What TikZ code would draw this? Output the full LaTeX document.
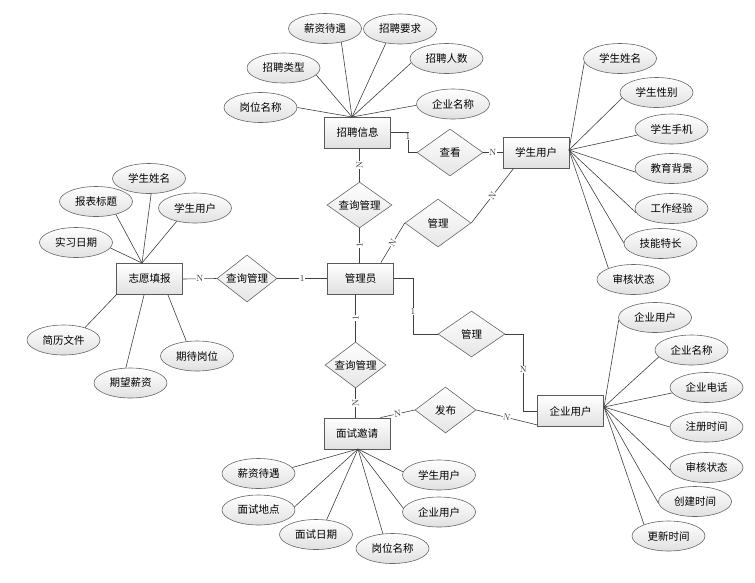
\documentclass[tikz,border=0pt]{standalone}
\usepackage{fontspec}
\newfontfamily\cjk{Noto Sans CJK SC}
\usetikzlibrary{shapes.geometric,calc}
\begin{document}
\begin{tikzpicture}[x=1pt,y=-1pt,
  cjkfont/.style={font=\cjk\fontsize{10.5}{12}\selectfont},
  ent/.style={rectangle,draw=black!65,line width=0.8pt,top color=white,bottom color=black!12,minimum width=66pt,minimum height=31pt,inner sep=0pt,cjkfont},
  attr/.style={ellipse,draw=black!60,line width=0.6pt,top color=white,bottom color=black!12,minimum width=73pt,minimum height=30pt,inner sep=0pt,cjkfont},
  rel/.style={diamond,aspect=1.4,draw=black!60,line width=0.6pt,top color=white,bottom color=black!10,minimum width=64pt,minimum height=46pt,inner sep=0pt,cjkfont},
  conn/.style={draw=black!75,line width=0.6pt},
  lab/.style={fill=white,inner sep=0.6pt,font=\fontsize{9}{10}\selectfont,text=black!80},
]
\useasboundingbox (0,0) rectangle (755,582);

% entities
\node[ent] (zp) at (357.5,132.5) {招聘信息};
\node[ent] (su) at (536,152.5) {学生用户};
\node[ent] (gl) at (360.5,278.5) {管理员};
\node[ent] (zy) at (149.5,279) {志愿填报};
\node[ent] (ms) at (357,433.5) {面试邀请};
\node[ent] (qy) at (570.5,411) {企业用户};

% relationships
\node[rel,minimum width=66pt,minimum height=47pt] (ck) at (450,152.5) {查看};
\node[rel,minimum width=66pt,minimum height=48pt] (m1) at (438,223) {管理};
\node[rel,minimum width=65pt] (q1) at (359.5,205) {查询管理};
\node[rel,minimum width=61pt] (q2) at (355.5,365) {查询管理};
\node[rel,minimum width=60pt,minimum height=47pt] (q3) at (247,278.5) {查询管理};
\node[rel,minimum width=67pt] (m2) at (471.5,334) {管理};
\node[rel,minimum width=61pt] (fb) at (445.5,410) {发布};

% attributes of 招聘信息
\node[attr] (a1) at (325,28.5) {薪资待遇};
\node[attr] (a2) at (400,29) {招聘要求};
\node[attr] (a3) at (283.5,68) {招聘类型};
\node[attr] (a4) at (446.5,58.5) {招聘人数};
\node[attr] (a5) at (260.5,107.5) {岗位名称};
\node[attr] (a6) at (453,104) {企业名称};
\coordinate (z1) at (352,117);
\foreach \n/\a in {a1/-40,a2/-135,a3/-12,a4/-173,a5/0,a6/-178}
  \draw[conn] (z1) -- (\n.\a);

% attributes of 志愿填报
\node[attr] (b1) at (149,178.5) {学生姓名};
\node[attr] (b2) at (96,201.5) {报表标题};
\node[attr] (b3) at (195,208) {学生用户};
\node[attr] (b4) at (76,242.5) {实习日期};
\node[attr] (b5) at (63.5,340) {简历文件};
\node[attr] (b6) at (197,356) {期待岗位};
\node[attr] (b7) at (130.5,383) {期望薪资};
\coordinate (z2) at (142,263);
\foreach \n/\a in {b1/-82,b2/-33,b3/-144,b4/-9}
  \draw[conn] (z2) -- (\n.\a);
\coordinate (z2a) at (117,294);
\coordinate (z2b) at (144,295);
\coordinate (z2c) at (168,295);
\draw[conn] (z2a) -- (b5.30);
\draw[conn] (z2b) -- (b7.107);
\draw[conn] (z2c) -- (b6.126);

% attributes of 学生用户
\node[attr] (c1) at (620,58.5) {学生姓名};
\node[attr] (c2) at (656.5,92.5) {学生性别};
\node[attr] (c3) at (671.5,129) {学生手机};
\node[attr] (c4) at (671.5,168.5) {教育背景};
\node[attr] (c5) at (671.5,208.5) {工作经验};
\node[attr] (c6) at (660.5,243.5) {技能特长};
\node[attr] (c7) at (633.5,279.5) {审核状态};
\coordinate (z3) at (569,150);
\foreach \n/\a in {c1/-174,c2/-171,c3/-170,c4/-174,c5/-173,c6/179,c7/156}
  \draw[conn] (z3) -- (\n.\a);

% attributes of 企业用户
\node[attr] (d1) at (655,317.5) {企业用户};
\node[attr] (d2) at (691.5,350) {企业名称};
\node[attr] (d3) at (706.5,387.5) {企业电话};
\node[attr] (d4) at (706.5,427) {注册时间};
\node[attr] (d5) at (706.5,467.5) {审核状态};
\node[attr] (d6) at (695,501.5) {创建时间};
\node[attr] (d7) at (668.5,536) {更新时间};
\coordinate (z4) at (604,407);
\foreach \n/\a in {d1/-176,d2/-168,d3/-171,d4/180,d5/-176,d6/-177,d7/155}
  \draw[conn] (z4) -- (\n.\a);

% attributes of 面试邀请
\node[attr] (e1) at (258.5,473.5) {薪资待遇};
\node[attr] (e2) at (258.5,510) {面试地点};
\node[attr] (e3) at (316,534.5) {面试日期};
\node[attr] (e4) at (392.5,548.5) {岗位名称};
\node[attr] (e5) at (439,475) {学生用户};
\node[attr] (e6) at (439,512) {企业用户};
\coordinate (z5) at (358,449);
\foreach \n/\a in {e1/10,e2/5,e3/54,e4/123,e5/175,e6/174}
  \draw[conn] (z5) -- (\n.\a);

% relationship connectors
\draw[conn] (zp.east) -- ++(17,0) |- node[lab,pos=0.1]{1} (ck.west);
\draw[conn] (ck.east) -- node[lab]{N} (su.west);
\draw[conn] (q1.north |- zp.south) -- node[lab,rotate=90]{N} (q1.north);
\draw[conn] (q1.south) -- node[lab,rotate=90]{1} (q1.south |- gl.north);
\coordinate (suin) at ($(su.south west)+(11,0)$);
\draw[conn] (m1.east) -- node[lab,sloped]{N} (suin);
\coordinate (glin) at ($(gl.north east)+(-13,0)$);
\draw[conn] (m1.west) -- node[lab,sloped]{N} (glin);
\draw[conn] (zy.east) -- node[lab]{N} (q3.west);
\draw[conn] (q3.east) -- node[lab]{1} (gl.west);
\draw[conn] (q2.north |- gl.south) -- node[lab,rotate=90]{1} (q2.north);
\draw[conn] (q2.south) -- node[lab,rotate=90]{N} (q2.south |- ms.north);
\draw[conn] (gl.east) -- ++(19,0) |- node[lab,pos=0.3]{1} (m2.west);
\draw[conn] (m2.east) -- ++(18,0) |- node[lab,pos=0.23]{N} (qy.west);
\coordinate (msout) at ($(ms.north east)+(-10,0)$);
\draw[conn] (msout) -- node[lab,sloped]{N} (fb.west);
\coordinate (qyin) at ($(qy.south west)+(0,-2)$);
\draw[conn] (fb.east) -- node[lab,sloped]{N} (qyin);
\end{tikzpicture}
\end{document}
